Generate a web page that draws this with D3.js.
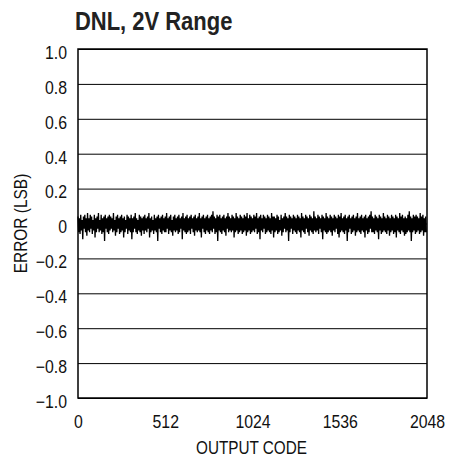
<!DOCTYPE html>
<html>
<head>
<meta charset="utf-8">
<script src="https://cdnjs.cloudflare.com/ajax/libs/d3/7.8.5/d3.min.js"></script>
<style>
  body { margin: 0; background: #fff; }
  text { font-family: "Liberation Sans", Arial, sans-serif; }
</style>
</head>
<body>
<div id="chart"></div>
<script>
// tick values
var xTicks = [0, 512, 1024, 1536, 2048];
var yTicks = [-1.0, -0.8, -0.6, -0.4, -0.2, 0, 0.2, 0.4, 0.6, 0.8, 1.0];

// DNL error, one sample every 4 codes
var codeStep = 4;
var dnl = [
  0.04,-0.05,0.03,-0.06,0.05,-0.04,0.02,-0.09,0.04,-0.03,0.05,-0.05,0.03,-0.07,0.06,-0.04,
  0.03,-0.05,0.05,-0.03,0.04,-0.06,0.02,-0.04,0.05,-0.08,0.03,-0.05,0.04,-0.03,0.06,-0.05,
  0.02,-0.04,0.05,-0.06,0.03,-0.05,0.04,-0.10,0.05,-0.03,0.03,-0.05,0.04,-0.06,0.05,-0.04,
  0.04,-0.03,0.03,-0.05,0.06,-0.04,0.02,-0.07,0.04,-0.05,0.05,-0.03,0.03,-0.06,0.04,-0.05,
  0.05,-0.04,0.03,-0.08,0.04,-0.05,0.02,-0.03,0.05,-0.06,0.04,-0.04,0.03,-0.05,0.05,-0.09,
  0.03,-0.05,0.04,-0.03,0.06,-0.05,0.03,-0.06,0.02,-0.04,0.05,-0.05,0.04,-0.07,0.03,-0.04,
  0.04,-0.06,0.05,-0.04,0.03,-0.05,0.04,-0.03,0.06,-0.08,0.03,-0.05,0.04,-0.04,0.02,-0.06,
  0.05,-0.04,0.03,-0.05,0.04,-0.10,0.05,-0.03,0.03,-0.05,0.04,-0.06,0.05,-0.04,0.03,-0.05,
  0.04,-0.05,0.06,-0.03,0.03,-0.06,0.04,-0.04,0.05,-0.05,0.02,-0.07,0.04,-0.04,0.05,-0.05,
  0.03,-0.04,0.04,-0.06,0.05,-0.05,0.03,-0.03,0.04,-0.09,0.06,-0.04,0.03,-0.05,0.04,-0.06,
  0.05,-0.05,0.03,-0.04,0.04,-0.06,0.05,-0.03,0.03,-0.05,0.04,-0.07,0.05,-0.04,0.03,-0.05,
  0.04,-0.04,0.06,-0.05,0.03,-0.08,0.04,-0.03,0.05,-0.05,0.03,-0.06,0.04,-0.04,0.05,-0.05,
  0.03,-0.06,0.04,-0.04,0.05,-0.05,0.07,-0.03,0.04,-0.06,0.03,-0.05,0.05,-0.10,0.04,-0.04,
  0.05,-0.05,0.03,-0.06,0.04,-0.04,0.05,-0.05,0.03,-0.07,0.04,-0.03,0.06,-0.05,0.04,-0.04,
  0.03,-0.05,0.05,-0.04,0.04,-0.08,0.03,-0.05,0.06,-0.04,0.04,-0.06,0.03,-0.05,0.05,-0.04,
  0.04,-0.06,0.03,-0.05,0.05,-0.04,0.04,-0.07,0.06,-0.05,0.03,-0.04,0.05,-0.06,0.04,-0.05,
  0.03,-0.04,0.05,-0.05,0.04,-0.03,0.06,-0.06,0.03,-0.05,0.04,-0.09,0.05,-0.04,0.03,-0.05,
  0.05,-0.03,0.04,-0.06,0.03,-0.05,0.05,-0.04,0.04,-0.05,0.03,-0.06,0.06,-0.04,0.04,-0.08,
  0.04,-0.05,0.03,-0.04,0.05,-0.06,0.04,-0.05,0.02,-0.04,0.05,-0.07,0.03,-0.05,0.04,-0.03,
  0.06,-0.05,0.04,-0.04,0.03,-0.10,0.05,-0.05,0.04,-0.03,0.03,-0.06,0.05,-0.04,0.04,-0.05,
  0.03,-0.06,0.05,-0.04,0.04,-0.05,0.03,-0.08,0.06,-0.04,0.04,-0.05,0.03,-0.06,0.05,-0.03,
  0.04,-0.05,0.03,-0.07,0.05,-0.04,0.04,-0.05,0.03,-0.06,0.07,-0.04,0.04,-0.05,0.03,-0.04,
  0.05,-0.06,0.04,-0.03,0.03,-0.05,0.05,-0.09,0.04,-0.04,0.03,-0.05,0.06,-0.06,0.04,-0.05,
  0.03,-0.04,0.05,-0.05,0.04,-0.07,0.03,-0.04,0.05,-0.05,0.04,-0.03,0.03,-0.06,0.05,-0.08,
  0.04,-0.05,0.06,-0.04,0.03,-0.05,0.04,-0.06,0.05,-0.04,0.03,-0.10,0.04,-0.05,0.05,-0.03,
  0.03,-0.06,0.04,-0.05,0.05,-0.04,0.03,-0.07,0.04,-0.05,0.06,-0.04,0.03,-0.05,0.04,-0.06,
  0.05,-0.04,0.03,-0.05,0.04,-0.08,0.05,-0.04,0.03,-0.06,0.04,-0.05,0.05,-0.03,0.07,-0.05,
  0.04,-0.05,0.03,-0.06,0.05,-0.04,0.04,-0.05,0.03,-0.09,0.05,-0.04,0.04,-0.06,0.03,-0.05,
  0.06,-0.04,0.04,-0.05,0.03,-0.06,0.05,-0.04,0.04,-0.07,0.03,-0.05,0.05,-0.04,0.04,-0.06,
  0.03,-0.05,0.05,-0.08,0.04,-0.04,0.03,-0.05,0.06,-0.06,0.04,-0.04,0.05,-0.05,0.03,-0.07,
  0.04,-0.06,0.03,-0.05,0.05,-0.04,0.07,-0.05,0.04,-0.10,0.03,-0.05,0.05,-0.04,0.04,-0.06,
  0.05,-0.05,0.04,-0.04,0.03,-0.06,0.06,-0.05,0.04,-0.04,0.05,-0.07,0.03,-0.05,0.04,-0.05
];

var W = 449, H = 458;
var margin = { left: 78, top: 49, right: 22, bottom: 60 };
var width = W - margin.left - margin.right;
var height = H - margin.top - margin.bottom;

// squeeze text horizontally to mimic a condensed face, keeping its anchor point
function squeeze(sel, sx) {
  sel.each(function () {
    var t = d3.select(this);
    var x0 = +t.attr("x") || 0;
    t.attr("x", x0 / sx).attr("transform", "scale(" + sx + ",1)");
  });
}

var svg = d3.select("#chart").append("svg")
  .attr("width", W).attr("height", H);

var g = svg.append("g")
  .attr("transform", "translate(" + margin.left + "," + margin.top + ")");

var x = d3.scaleLinear().domain([0, 2048]).range([0, width]);
var y = d3.scaleLinear().domain([-1, 1]).range([height, 0]);

var fmtY = function (d) {
  if (d === 0) return "0";
  return (d < 0 ? "\u2212" : "") + Math.abs(d).toFixed(1);
};

// gridlines + y labels
var yAxis = g.append("g")
  .call(d3.axisLeft(y).tickValues(yTicks).tickSize(-width).tickPadding(11).tickFormat(fmtY));
yAxis.select(".domain").remove();
yAxis.selectAll(".tick line").attr("stroke", "#000").attr("stroke-width", 1);
yAxis.selectAll(".tick text").style("font-size", "18px").attr("fill", "#111").attr("dy", "0.52em");
squeeze(yAxis.selectAll(".tick text"), 0.88);

// x labels
var xAxis = g.append("g")
  .attr("transform", "translate(0," + height + ")")
  .call(d3.axisBottom(x).tickValues(xTicks).tickSize(0).tickPadding(17).tickFormat(d3.format("d")));
xAxis.select(".domain").remove();
xAxis.selectAll(".tick text").style("font-size", "18px").attr("fill", "#111");
squeeze(xAxis.selectAll(".tick text"), 0.88);

// data trace
var line = d3.line()
  .x(function (d, i) { return x(i * codeStep); })
  .y(function (d) { return y(d); });

g.append("path")
  .datum(dnl)
  .attr("fill", "none")
  .attr("stroke", "#000")
  .attr("stroke-width", 1.3)
  .attr("d", line);

// frame
g.append("rect")
  .attr("width", width).attr("height", height)
  .attr("fill", "none").attr("stroke", "#000").attr("stroke-width", 1.5);

// title
svg.append("g").attr("transform", "translate(75,30)")
  .append("text")
  .style("font-size", "26px").style("font-weight", "bold")
  .attr("fill", "#222")
  .attr("transform", "scale(0.845,1)")
  .text("DNL, 2V Range");

// axis titles
svg.append("g").attr("transform", "translate(" + (margin.left + width / 2 - 1) + ",454)")
  .append("text")
  .attr("text-anchor", "middle")
  .attr("transform", "scale(0.85,1)")
  .style("font-size", "18px").attr("fill", "#111")
  .text("OUTPUT CODE");

svg.append("g").attr("transform", "translate(27," + (margin.top + height / 2) + ") rotate(-90)")
  .append("text")
  .attr("text-anchor", "middle")
  .attr("transform", "scale(0.86,1)")
  .style("font-size", "18px").attr("fill", "#111")
  .text("ERROR (LSB)");
</script>
</body>
</html>
